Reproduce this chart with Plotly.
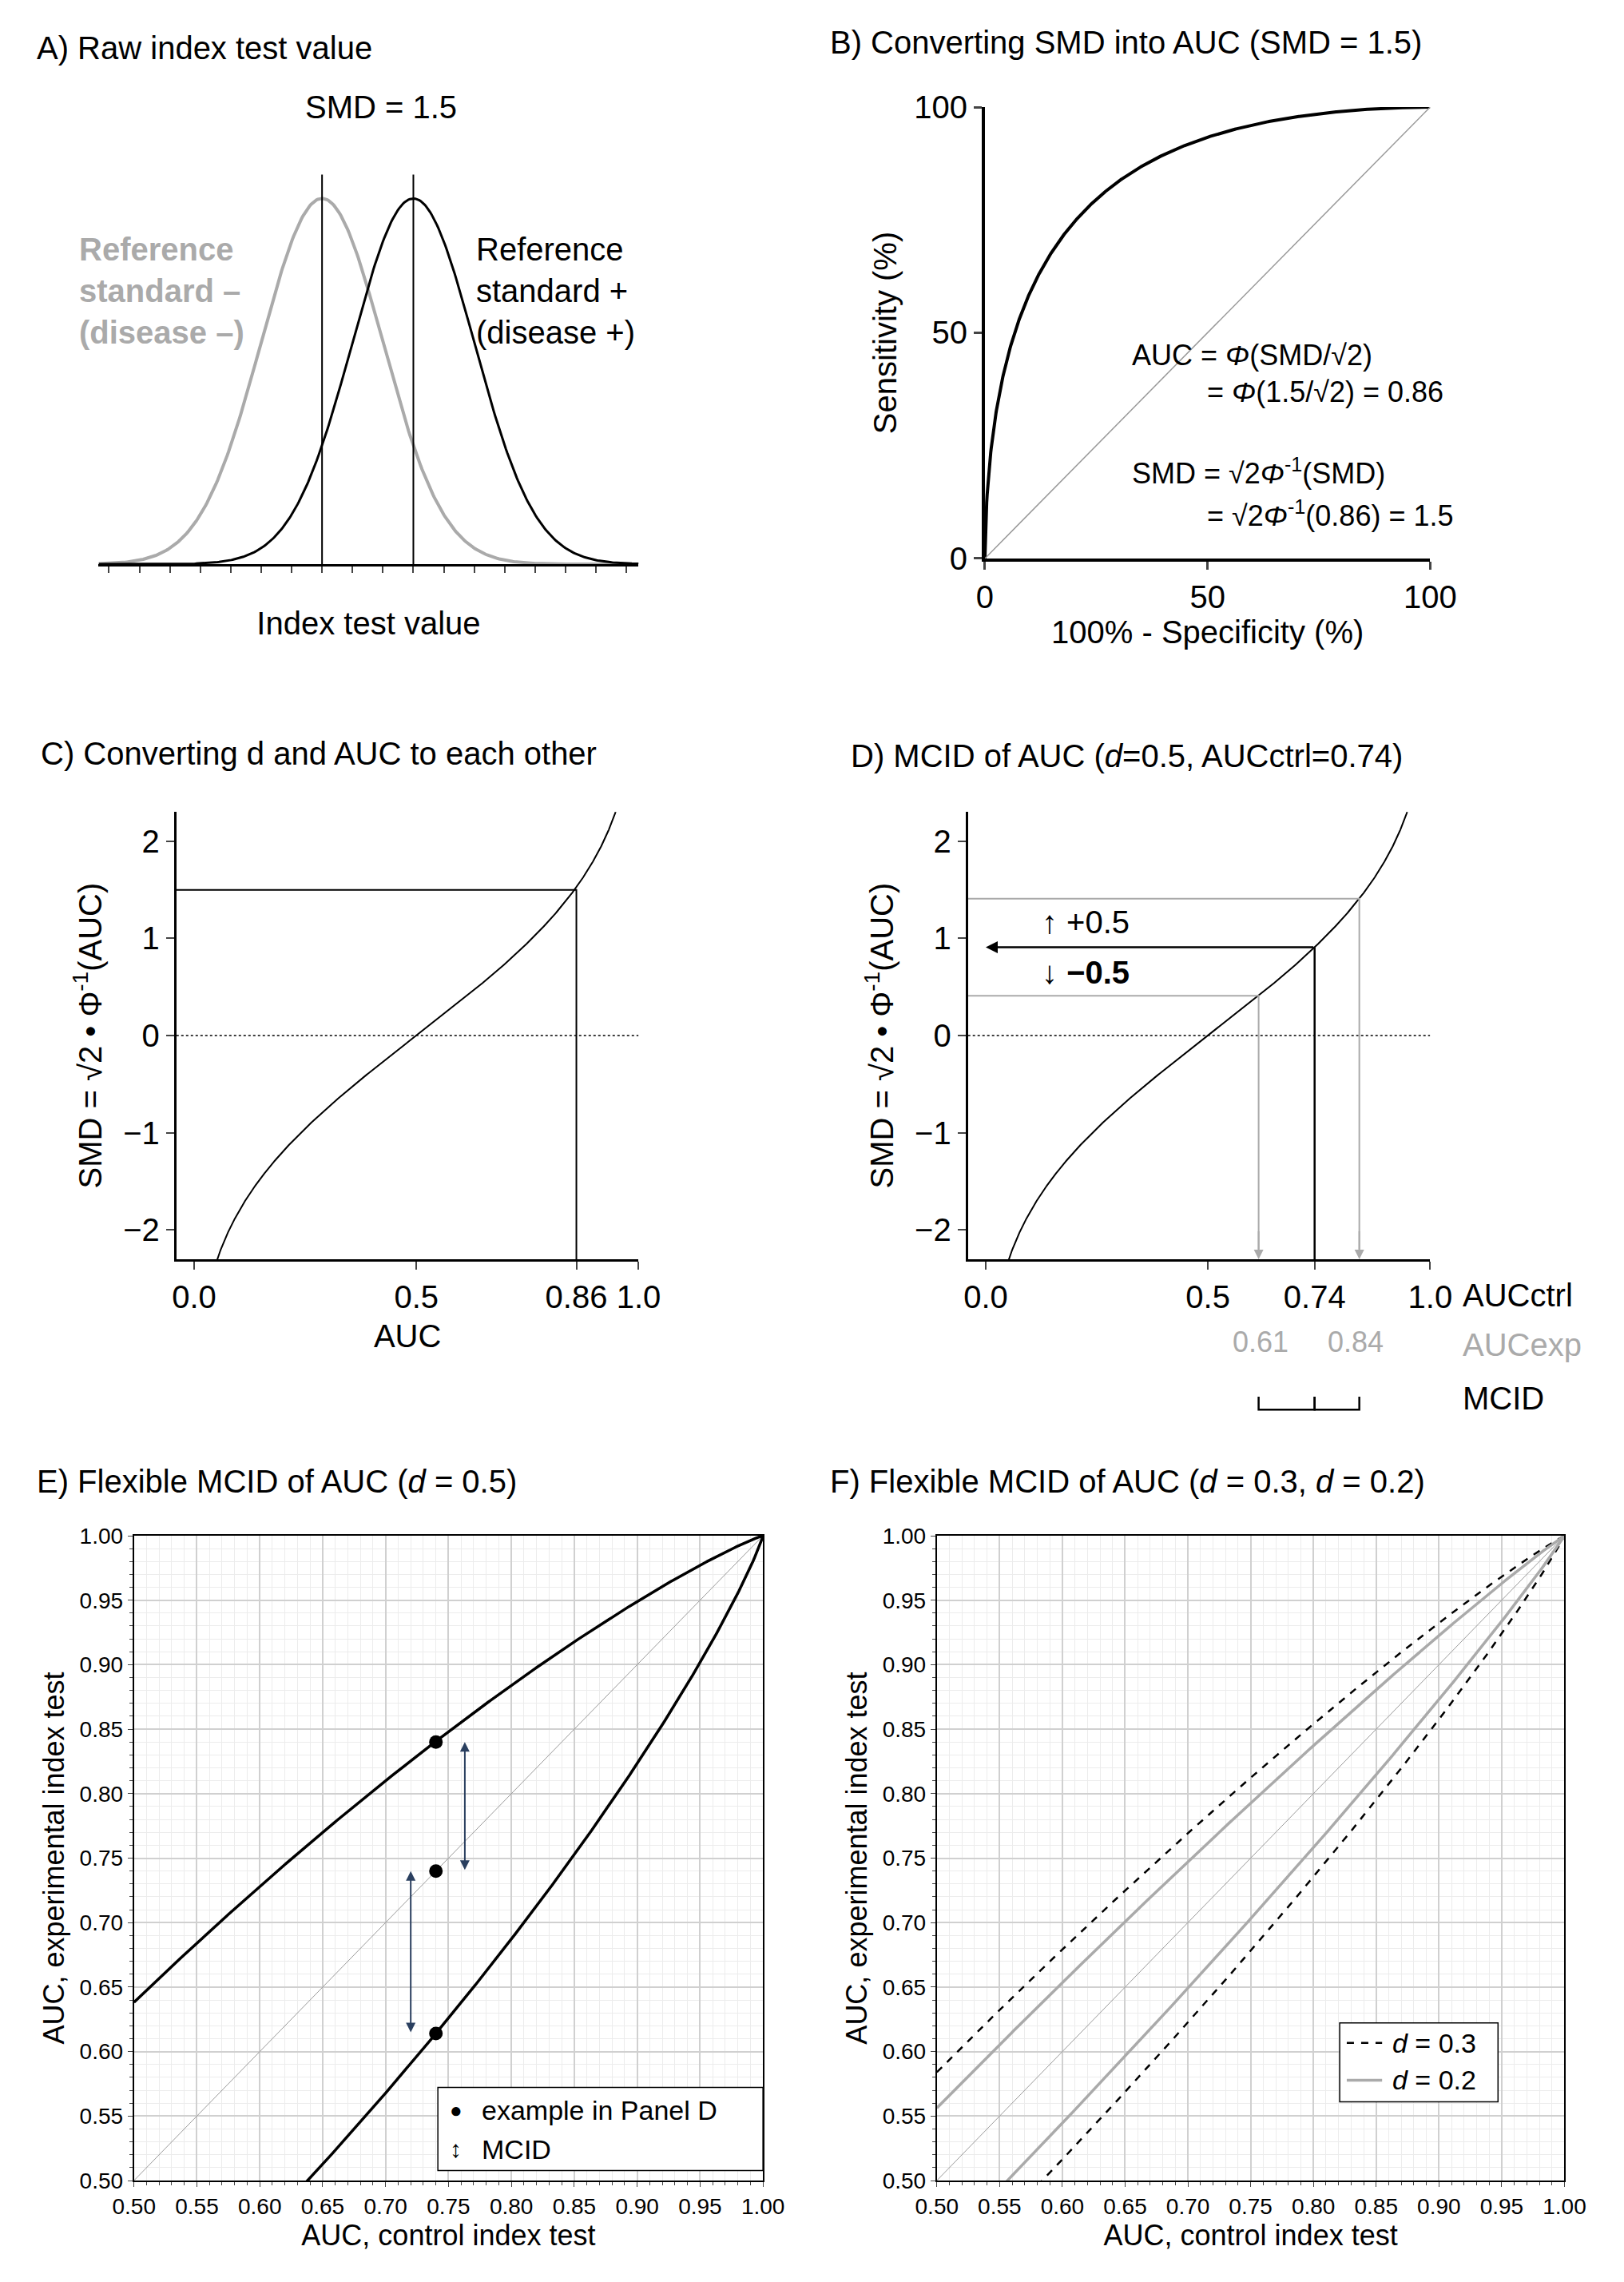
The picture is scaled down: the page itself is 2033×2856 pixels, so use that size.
import math
from statistics import NormalDist
import plotly.graph_objects as go

N = NormalDist()
SMD_A = 1.5
AUC_C = 0.86
D_MCID = 0.5
AUC_CTRL = 0.74
D_F = [0.3, 0.2]
EX_POINTS_X = [0.74, 0.74, 0.74]
EX_POINTS_Y = [0.84, 0.74, 0.614]

W, H = 1115.0, 1568.0
def px(x): return x / W
def py(y): return 1 - y / H

FONT = "Liberation Sans, Arial"
fig = go.Figure()

def lin(a, b, n):
    return [a + (b - a) * i / (n - 1) for i in range(n)]

# ---- Panel A
xs = lin(-3.67, 5.2, 400)
fig.add_trace(go.Scatter(x=xs, y=[N.pdf(x) for x in xs], mode="lines", line=dict(color="#aaaaaa", width=4), xaxis="x", yaxis="y"))
fig.add_trace(go.Scatter(x=xs, y=[N.pdf(x - SMD_A) for x in xs], mode="lines", line=dict(color="black", width=3), xaxis="x", yaxis="y"))
for m in [0, SMD_A]:
    fig.add_trace(go.Scatter(x=[m, m], y=[0, 0.425], mode="lines", line=dict(color="black", width=2), xaxis="x", yaxis="y"))
# ---- Panel B
fpr = [i / 1000 for i in range(1, 1000)]
fig.add_trace(go.Scatter(x=[0] + [f * 100 for f in fpr] + [100], y=[0] + [N.cdf(SMD_A + N.inv_cdf(f)) * 100 for f in fpr] + [100],
                         mode="lines", line=dict(color="black", width=4), xaxis="x2", yaxis="y2"))
fig.add_trace(go.Scatter(x=[0, 100], y=[0, 100], mode="lines", line=dict(color="#999999", width=1.5), xaxis="x2", yaxis="y2"))

# ---- Panel C & D curve
aucs = [i / 2000 for i in range(1, 2000)]
smd = [math.sqrt(2) * N.inv_cdf(a) for a in aucs]
cx = [a for a, s in zip(aucs, smd) if -2.4 < s < 2.4]
cy = [s for s in smd if -2.4 < s < 2.4]
for xa, ya in [("x3", "y3"), ("x4", "y4")]:
    fig.add_trace(go.Scatter(x=cx, y=cy, mode="lines", line=dict(color="black", width=2), xaxis=xa, yaxis=ya))
    fig.add_trace(go.Scatter(x=[-0.04, 1.0], y=[0, 0], mode="lines", line=dict(color="black", width=1.5, dash="dot"), xaxis=xa, yaxis=ya))
sc = math.sqrt(2) * N.inv_cdf(AUC_C)
fig.add_trace(go.Scatter(x=[-0.04, AUC_C, AUC_C], y=[1.5, 1.5, -2.3], mode="lines", line=dict(color="black", width=2), xaxis="x3", yaxis="y3"))
s0 = math.sqrt(2) * N.inv_cdf(AUC_CTRL)
fig.add_trace(go.Scatter(x=[AUC_CTRL, AUC_CTRL], y=[s0, -2.3], mode="lines", line=dict(color="black", width=2.5), xaxis="x4", yaxis="y4"))
exps = []
for sgn in [1, -1]:
    se = s0 + sgn * D_MCID
    ae = N.cdf(se / math.sqrt(2))
    exps.append(ae)
    fig.add_trace(go.Scatter(x=[-0.04, ae, ae], y=[se, se, -2.2], mode="lines", line=dict(color="#aaaaaa", width=2), xaxis="x4", yaxis="y4"))
    fig.add_annotation(x=ae, y=-2.3, ax=ae, ay=-2.0, xref="x4", yref="y4", axref="x4", ayref="y4", showarrow=True,
                       arrowhead=2, arrowsize=1.2, arrowwidth=2, arrowcolor="#aaaaaa", text="")
fig.add_annotation(x=0.0, y=s0, ax=AUC_CTRL, ay=s0, xref="x4", yref="y4", axref="x4", ayref="y4", showarrow=True,
                   arrowhead=2, arrowsize=1.2, arrowwidth=2.5, arrowcolor="black", text="")

# ---- Panel E
g = [0.5 + i / 1000 for i in range(0, 501)]
def shift(a, d):
    return N.cdf((math.sqrt(2) * N.inv_cdf(min(a, 0.999999)) + d) / math.sqrt(2))
fig.add_trace(go.Scatter(x=[0.5, 1], y=[0.5, 1], mode="lines", line=dict(color="#999999", width=1), xaxis="x5", yaxis="y5"))
fig.add_trace(go.Scatter(x=g, y=[shift(a, D_MCID) for a in g], mode="lines", line=dict(color="black", width=3.5), xaxis="x5", yaxis="y5"))
fig.add_trace(go.Scatter(x=g, y=[shift(a, -D_MCID) for a in g], mode="lines", line=dict(color="black", width=3.5), xaxis="x5", yaxis="y5"))
fig.add_trace(go.Scatter(x=EX_POINTS_X, y=EX_POINTS_Y, mode="markers", marker=dict(color="black", size=17), xaxis="x5", yaxis="y5"))
for x0, ya, yb in [(0.763, 0.74, 0.84), (0.72, 0.614, 0.74)]:
    fig.add_annotation(x=x0, y=yb, ax=x0, ay=ya, xref="x5", yref="y5", axref="x5", ayref="y5", showarrow=True,
                       arrowhead=2, startarrowhead=2, arrowside="end+start", arrowsize=1.2, arrowwidth=2, text="")
# ---- Panel F
fig.add_trace(go.Scatter(x=[0.5, 1], y=[0.5, 1], mode="lines", line=dict(color="#999999", width=1), xaxis="x6", yaxis="y6"))
for d, col, dash, w in [(D_F[0], "black", "dash", 2.5), (D_F[1], "#aaaaaa", "solid", 3.5)]:
    for sgn in [1, -1]:
        fig.add_trace(go.Scatter(x=g, y=[shift(a, sgn * d) for a in g], mode="lines", line=dict(color=col, width=w, dash=dash), xaxis="x6", yaxis="y6"))

tf = dict(family=FONT, size=40, color="black")
sf = dict(family=FONT, size=28, color="black")
layout = dict(
    width=2033, height=2856, paper_bgcolor="white", plot_bgcolor="white", showlegend=False,
    margin=dict(l=0, r=0, t=0, b=0), font=dict(family=FONT, color="black"),
    xaxis=dict(domain=[px(50), px(432)], range=[-3.67, 5.2], anchor="y", showline=True, linecolor="black", linewidth=3,
               ticks="outside", dtick=0.5, tick0=0, ticklen=8, tickwidth=2, showticklabels=False, showgrid=False, zeroline=False,
               title=dict(text="Index test value", font=tf, standoff=50)),
    yaxis=dict(domain=[py(377), py(100)], range=[0, 0.433], anchor="x", visible=False),
    xaxis2=dict(domain=[px(677), px(992)], range=[0, 100], anchor="y2", showline=True, linecolor="black", linewidth=4,
                ticks="outside", tickvals=[0, 50, 100], ticklen=10, tickwidth=3, tickfont=tf, showgrid=False, zeroline=False,
                title=dict(text="100% - Specificity (%)", font=tf, standoff=10)),
    yaxis2=dict(domain=[py(373), py(58)], range=[0, 100], anchor="x2", showline=True, linecolor="black", linewidth=4,
                ticks="outside", tickvals=[0, 50, 100], ticklen=10, tickwidth=3, tickfont=tf, showgrid=False, zeroline=False,
                title=dict(text="Sensitivity (%)", font=tf, standoff=10)),
)
for i, (x0, x1, tv, tt, title) in zip([3, 4], [(105, 432, [0, 0.5, 0.86, 1.0], ["0.0", "0.5", "0.86", "1.0"], "AUC"),
                                               (665, 992, [0, 0.5, 0.74, 1.0], ["0.0", "0.5", "0.74", "1.0"], "")]):
    layout[f"xaxis{i}"] = dict(domain=[px(x0), px(x1)], range=[-0.04, 1.0], anchor=f"y{i}", showline=True, linecolor="black", linewidth=3,
                               ticks="outside", tickvals=tv, ticktext=tt, ticklen=10, tickwidth=2, tickfont=tf, showgrid=False, zeroline=False,
                               title=dict(text=title, font=tf, standoff=15))
    layout[f"yaxis{i}"] = dict(domain=[py(862), py(550)], range=[-2.3, 2.3], anchor=f"x{i}", showline=True, linecolor="black", linewidth=3,
                               ticks="outside", tickvals=[-2, -1, 0, 1, 2], ticklen=10, tickwidth=2, tickfont=tf, showgrid=False, zeroline=False,
                               title=dict(text="SMD = √2 • Φ<sup>-1</sup>(AUC)", font=tf, standoff=15))
for i, x0, x1 in [(5, 75, 520), (6, 643, 1087)]:
    vals = [0.5 + 0.05 * k for k in range(11)]
    common = dict(range=[0.5, 1.0], showline=True, linecolor="black", linewidth=2, mirror=True, ticks="outside",
                  tickvals=vals, ticktext=[f"{v:.2f}" for v in vals], ticklen=6, tickfont=sf, showgrid=True,
                  gridcolor="#d0d0d0", gridwidth=1.5, zeroline=False,
                  minor=dict(dtick=0.01, tick0=0.5, showgrid=True, gridcolor="#ececec", gridwidth=1, ticks="outside", ticklen=4))
    layout[f"xaxis{i}"] = dict(domain=[px(x0), px(x1)], anchor=f"y{i}", title=dict(text="AUC, control index test", font=dict(family=FONT, size=36), standoff=8), **common)
    layout[f"yaxis{i}"] = dict(domain=[py(1505), py(1055)], anchor=f"x{i}", title=dict(text="AUC, experimental index test", font=dict(family=FONT, size=36), standoff=8), **common)
fig.update_layout(**layout)

def ann(x, y, text, size=40, color="black", xa="left", ya="middle"):
    fig.add_annotation(x=px(x), y=py(y), xref="paper", yref="paper", text=text, showarrow=False,
                       font=dict(family=FONT, size=size, color=color), xanchor=xa, yanchor=ya, align="left")

ann(5, 17, "A) Raw index test value")
ann(566, 13, "B) Converting SMD into AUC (SMD = 1.5)")
ann(8, 509, "C) Converting d and AUC to each other")
ann(581, 511, "D) MCID of AUC (<i>d</i>=0.5, AUCctrl=0.74)")
ann(5, 1017, "E) Flexible MCID of AUC (<i>d</i> = 0.5)")
ann(566, 1017, "F) Flexible MCID of AUC (<i>d</i> = 0.3, <i>d</i> = 0.2)")
ann(250, 58, "SMD = 1.5", xa="center")
fig.add_annotation(x=SMD_A, y=0.452, ax=0, ay=0.452, xref="x", yref="y", axref="x", ayref="y",
                   showarrow=True, arrowhead=2, startarrowhead=2, arrowside="end+start", arrowwidth=3, arrowsize=1, text="")
ann(35, 186, "<b>Reference<br>standard –<br>(disease –)</b>", color="#aaaaaa", ya="middle")
ann(316, 186, "Reference<br>standard +<br>(disease +)", ya="middle")
ann(780, 231, "AUC = <i>Φ</i>(SMD/√2)", size=36)
ann(833, 257, "= <i>Φ</i>(1.5/√2) = 0.86", size=36)
ann(780, 312, "SMD = √2<i>Φ</i><sup>-1</sup>(SMD)", size=36)
ann(833, 342, "= √2<i>Φ</i><sup>-1</sup>(0.86) = 1.5", size=36)
ann(716, 627, "↑ +0.5")
ann(716, 662, "<b>↓ −0.5</b>")
ann(1014, 887, "AUCctrl")
ann(1014, 922, "AUCexp", color="#aaaaaa")
ann(1014, 959, "MCID")
ann(872, 920, "0.61", size=36, color="#aaaaaa", xa="center")
ann(939, 920, "0.84", size=36, color="#aaaaaa", xa="center")
for a, b in [(exps[1], AUC_CTRL), (AUC_CTRL, exps[0])]:
    fig.add_shape(type="path", xref="x4", yref="paper",
                  path=f"M {a},{py(958)} L {a},{py(967)} L {b},{py(967)} L {b},{py(958)}", line=dict(color="black", width=2.5))
# legends
fig.add_shape(type="rect", xref="paper", yref="paper", x0=px(290), x1=px(520), y0=py(1498), y1=py(1440), line=dict(color="black", width=1.5), fillcolor="white")
ann(297, 1456, "●", size=26)
ann(320, 1456, "example in Panel D", size=34)
ann(297, 1483, "↕", size=30)
ann(320, 1483, "MCID", size=34)
fig.add_shape(type="rect", xref="paper", yref="paper", x0=px(928), x1=px(1040), y0=py(1450), y1=py(1395), line=dict(color="black", width=1.5), fillcolor="white")
fig.add_shape(type="line", xref="paper", yref="paper", x0=px(933), x1=px(958), y0=py(1409), y1=py(1409), line=dict(color="black", width=2.5, dash="dash"))
fig.add_shape(type="line", xref="paper", yref="paper", x0=px(933), x1=px(958), y0=py(1435), y1=py(1435), line=dict(color="#aaaaaa", width=3.5))
ann(964, 1409, "<i>d</i> = 0.3", size=34)
ann(964, 1435, "<i>d</i> = 0.2", size=34)
fig.write_html("out.html")
